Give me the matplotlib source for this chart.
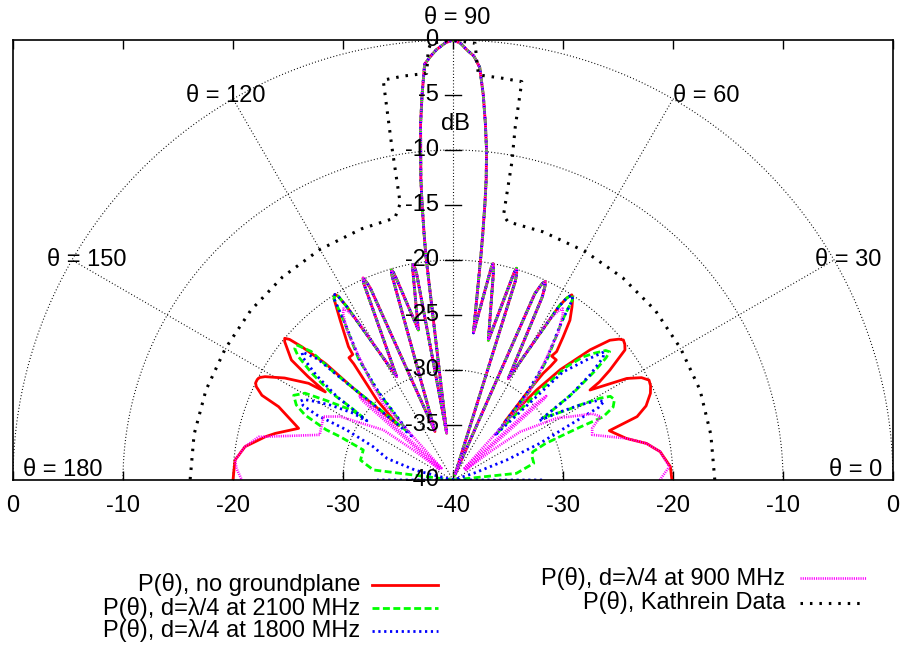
import numpy as np
import matplotlib
matplotlib.use("Agg")
import matplotlib.pyplot as plt

plt.rcParams['font.family'] = ['Liberation Sans', 'DejaVu Sans']
plt.rcParams['lines.scale_dashes'] = False

# ---- data: angle theta (deg) and power (dB) ----
# part shared by all simulated curves (main lobe + first side lobes)
mid_theta = [61.4, 64.0, 64.6, 65.1, 65.6, 66.3, 69.8, 72.6, 72.9, 73.3, 73.6, 75.8,
             78.9, 79.2, 79.5, 79.8, 82.1, 82.9, 83.1, 83.4, 83.7, 84.2, 84.8, 85.5,
             86.3, 87.2, 88.2, 89.0, 90.0, 91.0, 92.2, 93.0, 93.9, 94.6, 95.2, 95.6,
             96.1, 96.4, 96.7, 96.9, 97.7, 100.0, 100.2, 100.5, 100.8, 103.0, 105.7,
             106.0, 106.3, 106.6, 110.4, 113.3, 113.6, 114.0, 114.4, 118.6]
mid_db = [-29.5, -21.5, -20.5, -20.1, -20.4, -21.5, -39.5, -21.0, -20.3, -19.9, -20.4, -26.9,
          -21.0, -20.4, -20.0, -20.4, -26.5, -19.5, -17.5, -14.8, -12.5, -9.85, -7.5, -4.9,
          -2.4, -1.4, -0.85, -0.3, 0.0, -0.25, -0.85, -1.4, -2.1, -4.9, -7.5, -9.9,
          -12.5, -14.8, -17.5, -19.5, -35.7, -21.0, -20.4, -20.1, -20.4, -26.0, -21.0,
          -20.4, -20.1, -20.4, -35.3, -21.0, -20.4, -19.9, -20.3, -29.3]

# no groundplane
red_r_theta = [0.0, 3.5, 7.8, 10.7, 13.5, 17.5, 19.0, 21.0, 23.7, 25.5, 27.0, 28.5, 30.3,
               33.3, 33.8, 35.0, 37.1, 38.3, 39.4, 40.3, 41.7, 43.5, 45.8, 47.1, 48.3,
               49.7, 49.8, 49.4, 49.3, 51.5, 51.1, 52.4, 53.8, 55.5, 56.5, 57.3, 58.0, 58.6]
red_r_db = [-20.1, -20.2, -21.0, -22.1, -23.8, -25.1, -22.3, -21.2, -20.4, -20.1, -20.0, -20.5, -21.7,
            -25.1, -24.0, -22.6, -20.4, -20.1, -19.95, -20.2, -20.9, -22.8, -26.0, -28.8, -33.0,
            -29.7, -27.3, -26.4, -25.6, -25.6, -25.0, -23.6, -22.0, -20.9, -20.3, -20.0, -20.5, -21.5]
red_l_theta = [121.5, 122.0, 122.5, 123.3, 125.2, 128.1, 128.6, 130.4, 130.5, 133.6, 135.0,
               137.4, 137.6, 138.6, 139.3, 139.9, 140.6, 141.3, 143.4, 144.5, 145.4, 146.2,
               148.8, 151.2, 152.1, 152.8, 153.8, 154.6, 156.1, 157.2, 161.5, 165.3, 167.0,
               170.9, 174.8, 180.0]
red_l_db = [-21.5, -20.3, -20.0, -20.3, -22.2, -24.6, -25.4, -25.4, -26.1, -30.0, -33.0,
            -27.5, -24.3, -21.7, -20.4, -20.0, -20.2, -20.6, -21.7, -23.8, -25.9, -24.2,
            -22.1, -20.5, -20.1, -20.0, -20.0, -20.2, -21.0, -22.8, -25.2, -23.3, -22.5,
            -20.85, -20.1, -20.0]

# d = lambda/4 at 2100 MHz
green_r_theta = [0.0, 4.0, 6.0, 11.7, 17.6, 19.5, 21.5, 22.3, 22.6, 22.8, 24.5, 26.5, 28.0,
                 29.1, 30.6, 31.6, 34.5, 36.0, 37.5, 38.6, 39.3, 40.3, 42.0, 43.4, 44.9,
                 46.0, 46.8, 49.2, 52.1, 55.6, 56.5, 57.3, 58.0, 58.6]
green_r_db = [-40, -40, -34.2, -32.5, -32.5, -32.3, -31.0, -28.8, -27.5, -25.2, -24.0, -23.6, -23.8,
              -24.7, -26.6, -27.9, -30.0, -26.4, -23.8, -22.2, -21.6, -21.8, -22.8, -23.7, -25.4,
              -29.0, -34.0, -29.3, -26.0, -22.4, -20.3, -20.0, -20.5, -21.5]
green_l_theta = [121.5, 122.0, 122.5, 123.3, 124.4, 127.9, 130.3, 133.2, 137.9, 137.8, 139.2,
                 140.3, 141.4, 142.9, 144.4, 144.6, 145.2, 145.4, 148.0, 149.6, 152.0, 154.4,
                 156.3, 158.4, 159.0, 161.5, 167.9, 172.8, 174.0, 180.0]
green_l_db = [-21.5, -20.3, -20.0, -20.3, -22.4, -26.0, -29.3, -34.0, -25.5, -22.6, -21.2,
              -21.3, -22.0, -23.9, -26.4, -28.6, -30.0, -28.8, -26.3, -24.4, -23.6, -24.2,
              -25.3, -27.6, -29.0, -31.4, -31.4, -32.7, -40, -40]

# d = lambda/4 at 1800 MHz
blue_r_theta = [0.0, 1.5, 12.0, 18.0, 20.4, 22.9, 25.1, 26.5, 27.5, 28.8, 30.5, 32.5, 34.5,
                35.7, 37.5, 39.2, 40.3, 41.8, 44.5, 46.8, 49.7, 52.0, 55.5, 56.5, 57.3, 58.0, 58.6]
blue_r_db = [-31.9, -40, -40, -38.0, -34.8, -31.4, -28.6, -25.2, -24.5, -25.0, -26.5, -28.5, -30.5,
             -27.0, -24.3, -22.4, -22.0, -23.5, -26.0, -34.5, -29.6, -26.3, -22.6, -20.3, -20.0, -20.5, -21.5]
blue_l_theta = [121.5, 122.0, 122.5, 123.3, 124.5, 128.0, 130.3, 133.2, 137.8, 138.2, 139.7,
                140.8, 142.5, 144.3, 145.5, 146.3, 148.5, 150.3, 151.6, 152.6, 153.6, 154.5,
                154.8, 157.3, 161.9, 165.5, 169.0, 178.5, 180.0]
blue_l_db = [-21.5, -20.3, -20.0, -20.3, -22.6, -26.3, -29.6, -34.5, -26.0, -23.5, -22.0,
             -22.4, -24.3, -27.0, -30.5, -29.0, -27.0, -25.6, -24.6, -24.4, -24.8, -26.3,
             -29.3, -32.1, -33.7, -36.5, -40, -40, -33.1]

# d = lambda/4 at 900 MHz
mag_r_theta = [0.0, 3.5, 7.8, 10.7, 13.5, 18.0, 20.4, 23.3, 25.5, 28.4, 30.8, 35.7, 37.2,
               38.5, 41.6, 42.0, 42.6, 45.7, 47.7, 50.3, 54.5, 56.5, 57.4, 58.2, 59.0]
mag_r_db = [-21.2, -20.3, -21.0, -22.1, -23.8, -26.7, -26.5, -25.4, -26.0, -27.9, -29.0, -32.5, -35.5,
            -38.5, -29.0, -28.6, -29.5, -38.5, -30.6, -28.2, -23.5, -21.9, -21.5, -22.0, -23.0]
mag_l_theta = [121.0, 121.8, 122.6, 123.5, 125.5, 129.7, 132.3, 134.3, 137.6, 138.1, 138.8,
               141.5, 142.9, 144.3, 150.7, 153.9, 161.3, 167.5, 170.9, 174.8, 177.0, 180.0]
mag_l_db = [-23.0, -22.0, -21.5, -21.9, -23.5, -28.2, -30.6, -38.5, -29.5, -28.6, -29.0,
            -38.5, -35.5, -32.2, -28.2, -26.9, -27.2, -21.9, -20.85, -20.1, -20.3, -20.8]

# Kathrein data sheet
kath_theta = [0, 10, 20, 30, 40, 50, 60, 70, 78.0, 79.2, 79.5, 80.0, 80.2, 83.0, 86.4, 86.7,
              87.1, 90.0, 92.9, 93.3, 93.7, 97.0, 99.9, 100.4, 100.8, 102.5, 110, 120, 130,
              140, 150, 160, 170, 180]
kath_db = [-16.2, -16.2, -16.1, -16.1, -16.0, -16.0, -16.0, -16.0, -16.0, -15.5, -10.7, -7.4,
           -3.25, -3.2, -3.1, -2.05, -0.25, 0.0, -0.25, -0.85, -2.95, -3.0, -3.1, -9.2, -14.4,
           -15.6, -15.7, -15.8, -15.9, -16.0, -16.1, -16.1, -16.1, -16.1]

labels = ["P(\u03b8), no groundplane",
          "P(\u03b8), d=\u03bb/4 at 2100 MHz",
          "P(\u03b8), d=\u03bb/4 at 1800 MHz",
          "P(\u03b8), d=\u03bb/4 at 900 MHz",
          "P(\u03b8), Kathrein Data"]

RMIN = -40.0


def to_xy(theta, db):
    t = np.radians(np.asarray(theta, float))
    r = np.clip(np.asarray(db, float), RMIN, 0) - RMIN
    return r * np.cos(t), r * np.sin(t)


curves = [
    (red_r_theta + mid_theta + red_l_theta, red_r_db + mid_db + red_l_db),
    (green_r_theta + mid_theta + green_l_theta, green_r_db + mid_db + green_l_db),
    (blue_r_theta + mid_theta + blue_l_theta, blue_r_db + mid_db + blue_l_db),
    (mag_r_theta + mid_theta + mag_l_theta, mag_r_db + mid_db + mag_l_db),
    (kath_theta, kath_db),
]
styles = [
    dict(color='#ff0000', lw=2.0, ls='-'),
    dict(color='#00ff00', lw=2.0, dashes=[5, 2.5]),
    dict(color='#0000ff', lw=2.0, dashes=[1.6, 2.6]),
    dict(color='#ff00ff', lw=1.9, dashes=[0.8, 0.8]),
    dict(color='#000000', lw=2.2, dashes=[1.8, 5.0]),
]

fig = plt.figure(figsize=(9.08, 6.52), dpi=100)
ax = fig.add_axes([13 / 908, 1 - 480 / 652, 880 / 908, 440 / 652])
ax.set_xlim(-40, 40)
ax.set_ylim(0, 40)

# polar grid
grid = dict(color='black', lw=0.8, dashes=[0.7, 1.6])
phi = np.linspace(0, np.pi, 361)
for rr in [10, 20, 30, 40]:
    ax.plot(rr * np.cos(phi), rr * np.sin(phi), **grid)
for ang in [30, 60, 90, 120, 150]:
    a = np.radians(ang)
    ax.plot([0, 40 * np.cos(a)], [0, 40 * np.sin(a)], **grid)

ang_lab = [("\u03b8 = 90", 0.4, 42.0), ("\u03b8 = 60", 23.0, 34.9), ("\u03b8 = 120", -20.7, 34.9),
           ("\u03b8 = 150", -33.3, 20.0), ("\u03b8 = 30", 35.9, 20.0), ("\u03b8 = 180", -35.5, 0.9),
           ("\u03b8 = 0", 36.6, 0.9)]
for s, x, y in ang_lab:
    ax.text(x, y, s, ha='center', va='center', fontsize=17, clip_on=False)

# r axis along theta = 90
for v in range(0, 45, 5):
    ax.plot([-0.7, 0.7], [v, v], color='black', lw=1.0)
    ax.text(-1.3, v, str(v - 40), ha='right', va='center', fontsize=17)
ax.text(0.25, 32.4, "dB", ha='center', va='center', fontsize=17)

for (th, db), st in zip(curves, styles):
    x, y = to_xy(th, db)
    ax.plot(x, y, **st)

xt = np.arange(-40, 41, 10)
ax.set_xticks(xt)
ax.set_xticklabels([str(abs(int(v)) - 40) for v in xt])
ax.set_yticks([])
ax.tick_params(axis='x', direction='in', length=6.5, width=1, top=True, labelsize=17, pad=11)
for sp in ax.spines.values():
    sp.set_linewidth(1.2)

# legend (key), drawn in pixel coordinates
lg = fig.add_axes([0, 0, 1, 1])
lg.set_xlim(0, 908)
lg.set_ylim(652, 0)
lg.axis('off')
key_pos = [(360, 372, 438, 585), (360, 372, 438, 608), (360, 372, 438, 631),
           (785, 800, 866, 578), (785, 800, 866, 603)]
for lab, st, (tx, x0, x1, y) in zip(labels, styles, key_pos):
    lg.text(tx, y, lab, ha='right', va='center', fontsize=17)
    lg.plot([x0, x1], [y, y], **st)

fig.savefig("out.png", dpi=100)
